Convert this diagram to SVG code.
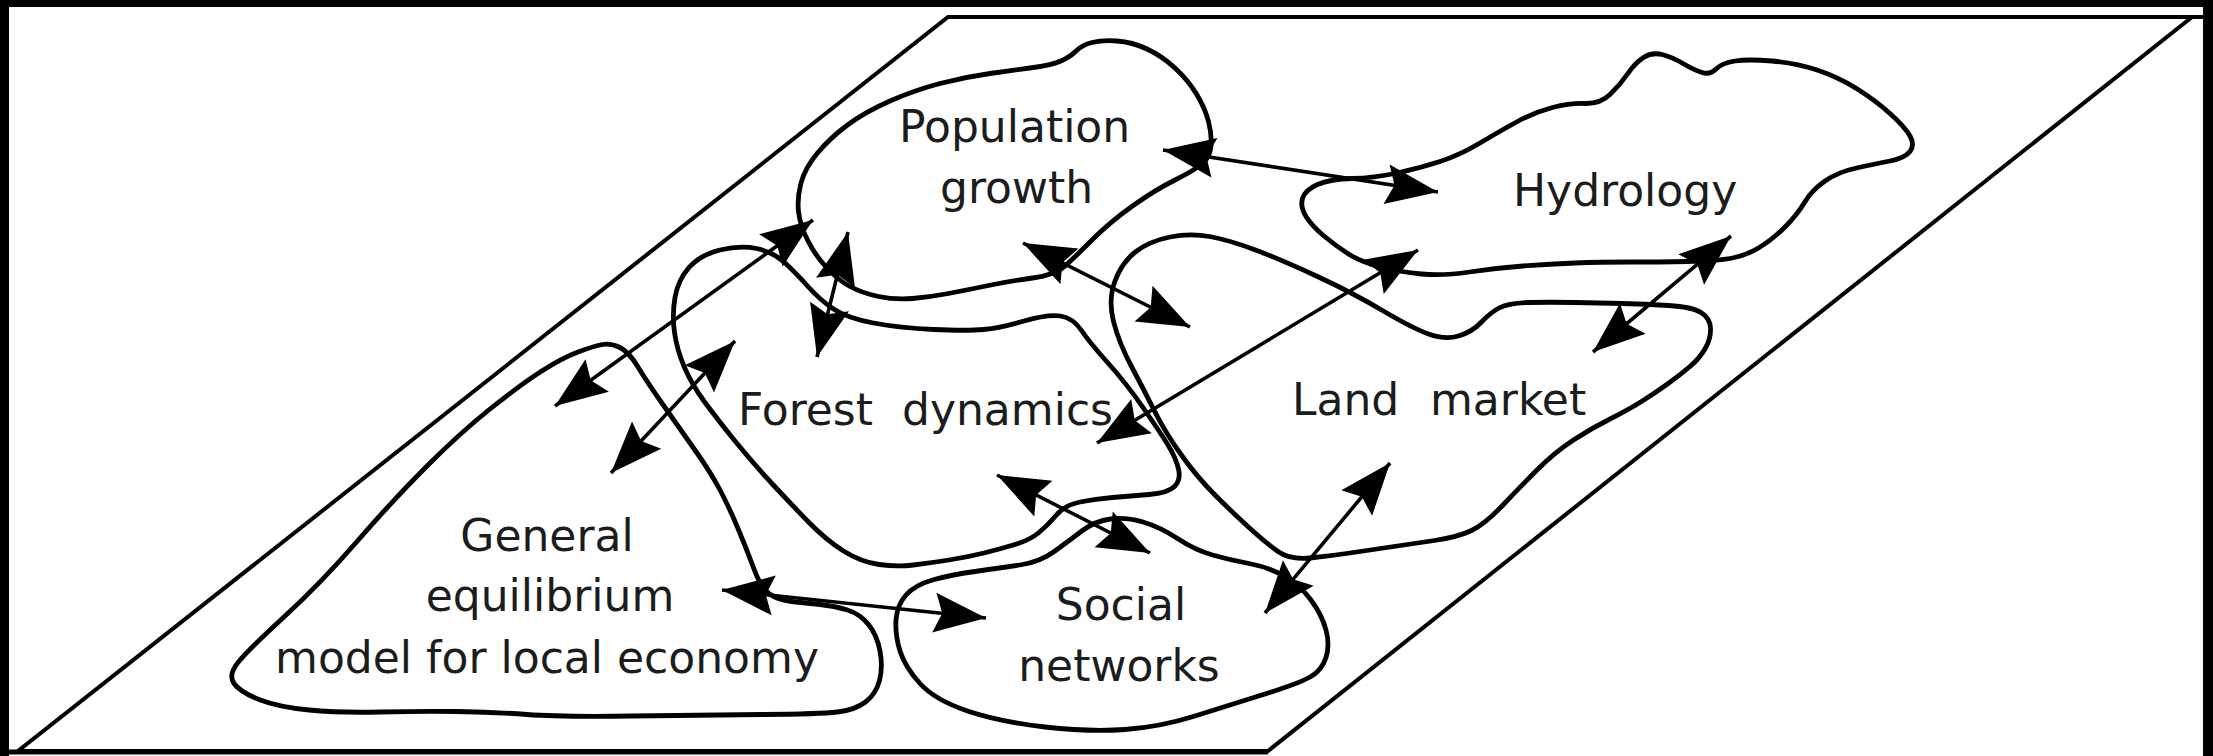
<svg xmlns="http://www.w3.org/2000/svg" width="2213" height="756" viewBox="0 0 2213 756">
<style>
.blob{fill:none;stroke:#000;stroke-width:4.8;stroke-linejoin:round}
.conn{fill:none;stroke:#000;stroke-width:3.6;marker-start:url(#ah);marker-end:url(#ah)}
.frame{fill:none;stroke:#000;stroke-width:4;stroke-linejoin:miter}
.lbl{font-family:"DejaVu Sans",sans-serif;font-size:44px;fill:#1c1c1c}
</style>
<defs>
<marker id="ah" viewBox="-54 -21 56 42" refX="0" refY="0" markerWidth="56" markerHeight="42" markerUnits="userSpaceOnUse" orient="auto-start-reverse"><path d="M0,0 L-52,-20 L-44,0 L-52,20 Z" fill="#000"/></marker>
</defs>
<rect width="2213" height="756" fill="#fff"/>
<g id="border">
<rect x="0" y="0" width="2213" height="7" fill="#000"/>
<rect x="0" y="0" width="9" height="756" fill="#000"/>
<rect x="2203" y="0" width="10" height="756" fill="#000"/>
</g>
<g id="plane">
<polygon class="frame" points="948,17 2192,17 1268,751 18,751"/>
<line x1="2192" y1="17" x2="2203" y2="17" stroke="#000" stroke-width="4"/>
<line x1="9" y1="752" x2="1268" y2="752" stroke="#000" stroke-width="5"/>
</g>
<g id="population">
<path class="blob" d="M807.5,240 Q800,225 798.5,211.5 Q797,198 801,183 Q805,168 817.5,153 Q830,138 847.5,125 Q865,112 890,101 Q915,90 940,83.5 Q965,77 990,73.5 Q1015,70 1033.5,67.5 Q1052,65 1061,61 Q1070,57 1076,51 Q1082,45 1092,42.5 Q1102,40 1117,41 Q1132,42 1147,49 Q1162,56 1175,68 Q1188,80 1196.5,94 Q1205,108 1208.5,121.5 Q1212,135 1211,146 Q1210,157 1202.5,163.5 Q1195,170 1175,180 Q1155,190 1132.5,206 Q1110,222 1092.5,239.5 Q1075,257 1065,266 Q1055,275 1032.5,278 Q1010,281 988.5,285.5 Q967,290 948.5,293.5 Q930,297 912.5,298.5 Q895,300 878.5,296.5 Q862,293 850,286.5 Q838,280 826.5,267.5 Q815,255 807.5,240 Z"/>
<text class="lbl" x="899" y="142">Population</text>
<text class="lbl" x="940" y="203">growth</text>
</g>
<g id="hydrology">
<path class="blob" d="M1352,178.5 Q1374,178 1397,173 Q1420,168 1440,161.5 Q1460,155 1480,143 Q1500,131 1517.5,121.5 Q1535,112 1552.5,107.5 Q1570,103 1585,103.5 Q1600,104 1610,94.5 Q1620,85 1627.5,74 Q1635,63 1643.5,57.5 Q1652,52 1662,54.5 Q1672,57 1683,63.5 Q1694,70 1702,72.5 Q1710,75 1716,69 Q1722,63 1735,61 Q1748,59 1772,61 Q1796,63 1817,70 Q1838,77 1856.5,88.5 Q1875,100 1890,113.5 Q1905,127 1910,136 Q1915,145 1910,151.5 Q1905,158 1890,161 Q1875,164 1856.5,168 Q1838,172 1825,181 Q1812,190 1804.5,202.5 Q1797,215 1784.5,227.5 Q1772,240 1758.5,248 Q1745,256 1730,258.5 Q1715,261 1687.5,261.5 Q1660,262 1630,262 Q1600,262 1575,263 Q1550,264 1523,266 Q1496,268 1469.5,272 Q1443,276 1421.5,274 Q1400,272 1380.5,267 Q1361,262 1348.5,254 Q1336,246 1324,236 Q1312,226 1306,216.5 Q1300,207 1302.5,198.5 Q1305,190 1317.5,184.5 Q1330,179 1352,178.5 Z"/>
<text class="lbl" x="1513" y="206">Hydrology</text>
</g>
<g id="forest">
<path class="blob" d="M756.5,248.5 Q773,252 784,262 Q795,272 807.5,286 Q820,300 833.5,309 Q847,318 873.5,323 Q900,328 933.5,329.5 Q967,331 983.5,329.5 Q1000,328 1024,321 Q1048,314 1060.5,316 Q1073,318 1081.5,330.5 Q1090,343 1108,363 Q1126,383 1143,407.5 Q1160,432 1168,445 Q1176,458 1178.5,469 Q1181,480 1174.5,486.5 Q1168,493 1149,494.5 Q1130,496 1112.5,497.5 Q1095,499 1080,502 Q1065,505 1056.5,515 Q1048,525 1039,532.5 Q1030,540 1015,544.5 Q1000,549 984,553 Q968,557 949,560 Q930,563 913.5,565 Q897,567 879,564.5 Q861,562 843.5,551 Q826,540 808,521.5 Q790,503 771,482.5 Q752,462 735,441 Q718,420 705,402.5 Q692,385 684.5,367.5 Q677,350 674.5,332.5 Q672,315 675,297.5 Q678,280 689,267.5 Q700,255 720,250 Q740,245 756.5,248.5 Z"/>
<text class="lbl" x="738" y="425">Forest</text>
<text class="lbl" x="902" y="425">dynamics</text>
</g>
<g id="land">
<path class="blob" d="M1278,551.5 Q1290,560 1310,558 Q1330,556 1350,553 Q1370,550 1390.5,547 Q1411,544 1434.5,540.5 Q1458,537 1471.5,530.5 Q1485,524 1502.5,505.5 Q1520,487 1537.5,469.5 Q1555,452 1573.5,440 Q1592,428 1610,419 Q1628,410 1641.5,401.5 Q1655,393 1667.5,384 Q1680,375 1690,366.5 Q1700,358 1705.5,348 Q1711,338 1710.5,328 Q1710,318 1701,312.5 Q1692,307 1668.5,305.5 Q1645,304 1622.5,303.5 Q1600,303 1575,302.5 Q1550,302 1529,302.5 Q1508,303 1499,308 Q1490,313 1481,322.5 Q1472,332 1458.5,336 Q1445,340 1428.5,334 Q1412,328 1382.5,310.5 Q1353,293 1317.5,276.5 Q1282,260 1255.5,250 Q1229,240 1209.5,236.5 Q1190,233 1170,237 Q1150,241 1136,251.5 Q1122,262 1115,281 Q1108,300 1113.5,321.5 Q1119,343 1131.5,366.5 Q1144,390 1154.5,411 Q1165,432 1181,454.5 Q1197,477 1215,495 Q1233,513 1249.5,528 Q1266,543 1278,551.5 Z"/>
<text class="lbl" x="1292" y="415">Land</text>
<text class="lbl" x="1430" y="415">market</text>
</g>
<g id="social">
<path class="blob" d="M1143,522 Q1126,517 1110.5,519 Q1095,521 1082.5,530.5 Q1070,540 1055,551 Q1040,562 1020,565 Q1000,568 975,571.5 Q950,575 932.5,580 Q915,585 906,595 Q897,605 896,620 Q895,635 900,651 Q905,667 920,683.5 Q935,700 967.5,711 Q1000,722 1045,727 Q1090,732 1125,729.5 Q1160,727 1195,716 Q1230,705 1265,694 Q1300,683 1311,676.5 Q1322,670 1326,657.5 Q1330,645 1326,630 Q1322,615 1311,600 Q1300,585 1284,576 Q1268,567 1249,563.5 Q1230,560 1212.5,555 Q1195,550 1177.5,538.5 Q1160,527 1143,522 Z"/>
<text class="lbl" x="1121" y="620" text-anchor="middle">Social</text>
<text class="lbl" x="1119" y="681" text-anchor="middle">networks</text>
</g>
<g id="general-equilibrium">
<path class="blob" d="M578,352 Q594,346 602.5,344.5 Q611,343 620,347.5 Q629,352 638,367 Q647,382 665,407.5 Q683,433 697,453 Q711,473 720,490 Q729,507 738,528.5 Q747,550 754,569 Q761,588 769.5,594 Q778,600 791.5,601.5 Q805,603 820,604.5 Q835,606 847.5,610 Q860,614 868.5,624.5 Q877,635 880,651 Q883,667 879.5,680.5 Q876,694 865.5,702 Q855,710 837.5,712 Q820,714 762.5,714.5 Q705,715 632.5,716 Q560,717 527,714.5 Q494,712 457,711.5 Q420,711 380,712 Q340,713 309,710 Q278,707 259,699.5 Q240,692 234,683.5 Q228,675 238,662.5 Q248,650 284.5,616.5 Q321,583 357,541.5 Q393,500 426.5,466.5 Q460,433 490,409 Q520,385 541,371.5 Q562,358 578,352 Z"/>
<text class="lbl" x="547" y="551" text-anchor="middle">General</text>
<text class="lbl" x="550" y="611" text-anchor="middle">equilibrium</text>
<text class="lbl" x="547" y="673" text-anchor="middle">model for local economy</text>
</g>
<g id="connectors">
<line class="conn" x1="555" y1="406" x2="813" y2="220"/>
<line class="conn" x1="848" y1="232" x2="817" y2="357"/>
<line class="conn" x1="611" y1="473" x2="735" y2="341"/>
<line class="conn" x1="1163" y1="150" x2="1438" y2="192"/>
<line class="conn" x1="1023" y1="243" x2="1190" y2="327"/>
<line class="conn" x1="1097" y1="443" x2="1418" y2="250"/>
<line class="conn" x1="1593" y1="352" x2="1731" y2="236"/>
<line class="conn" x1="997" y1="475" x2="1150" y2="553"/>
<line class="conn" x1="1265" y1="613" x2="1390" y2="463"/>
<line class="conn" x1="722" y1="590" x2="986" y2="618"/>
</g>
</svg>
